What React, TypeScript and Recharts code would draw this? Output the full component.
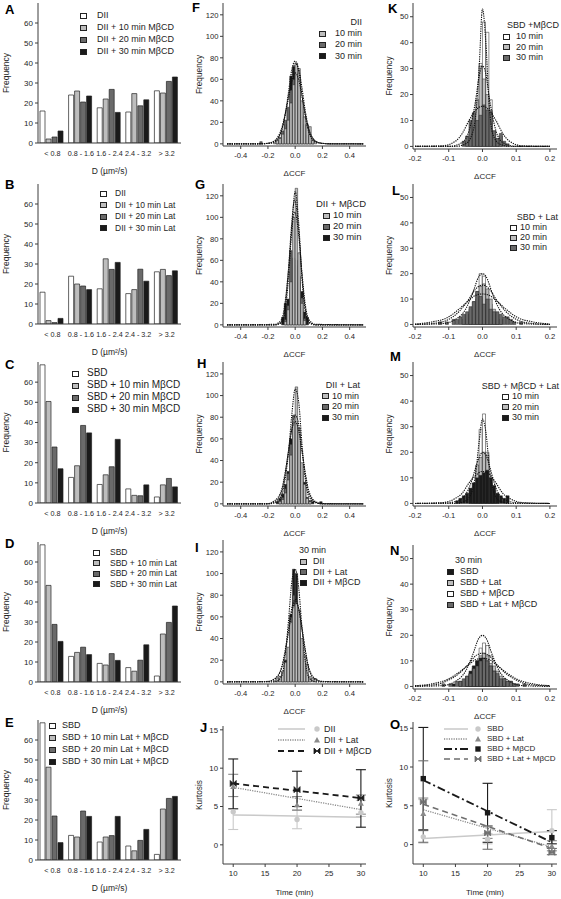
import React from 'react';
import { BarChart, Bar, XAxis, YAxis, ComposedChart, Line, Scatter, ErrorBar } from 'recharts';

const FONT = '"Liberation Sans", Arial, Helvetica, sans-serif';
const WHITE = '#ffffff';
const LIGHT = '#bdbdbd';
const DARK = '#6a6a6a';
const BLACK = '#1a1a1a';
const EDGE = '#222222';
const FRAME = '#3c3c3c';
const TXT = '#1e1e1e';

type Pair = [number, number];

// ---------- Left column (A–E): distribution of D ----------
const dCategories = ['< 0.8', '0.8 - 1.6', '1.6 - 2.4', '2.4 - 3.2', '> 3.2'];
const freqTicks = [0, 10, 20, 30, 40, 50, 60];

const aDII = [16, 24, 17.6, 15.5, 26.1];
const aDII10 = [2, 26, 22, 24.7, 25];
const aDII20 = [3, 20.5, 26.8, 18.6, 30.8];
const aDII30 = [6, 23.5, 15.3, 21.6, 33];

const bDII = [15.9, 23.9, 17.6, 15.2, 26.1];
const bDII10 = [1.7, 20, 32.6, 17.2, 27.3];
const bDII20 = [0.7, 19, 27.3, 27.4, 24.2];
const bDII30 = [2.8, 17.2, 30.8, 21.4, 26.6];

const cSBD = [68.6, 12.7, 9.2, 7, 3];
const cSBD10 = [50.4, 18.5, 14, 3.8, 9];
const cSBD20 = [27.8, 38.5, 18, 3.6, 12.2];
const cSBD30 = [17, 34.8, 31.6, 9, 8];

const dSBD = [68.6, 12.8, 9.3, 7.2, 3];
const dSBD10 = [48.3, 14.8, 8.5, 5.4, 24];
const dSBD20 = [28.8, 17.4, 14.2, 10.9, 29.8];
const dSBD30 = [20.3, 13.7, 10.8, 18.6, 38];

const eSBD = [68.6, 12.3, 9, 7, 2.8];
const eSBD10 = [46.4, 11.5, 11.5, 4.6, 25.5];
const eSBD20 = [22, 24.5, 12.2, 9.8, 30.8];
const eSBD30 = [8.7, 21.8, 21.8, 15.3, 31.8];

// ---------- Middle column histograms (F–I), ΔCCF bins ----------
const f10: Pair[] = [[-0.15,1],[-0.13,3],[-0.11,5],[-0.09,9],[-0.07,14],[-0.05,22],[-0.03,38],[-0.01,55],[0.01,75],[0.03,70],[0.05,40],[0.07,25],[0.09,18],[0.11,16],[0.13,4],[0.15,2]];
const f20: Pair[] = [[-0.25,2],[-0.13,3],[-0.11,6],[-0.09,12],[-0.07,22],[-0.05,34],[-0.03,50],[-0.01,60],[0.01,62],[0.03,45],[0.05,30],[0.07,16],[0.09,6],[0.11,3],[0.13,1]];
const f30: Pair[] = [[-0.13,2],[-0.11,4],[-0.09,10],[-0.07,18],[-0.05,30],[-0.03,63],[-0.01,72],[0.01,66],[0.03,64],[0.05,35],[0.07,18],[0.09,8],[0.11,3],[0.13,1]];
const fitF10: Pair[] = [[-0.5,0],[-0.25,0],[-0.2,0.5],[-0.15,2.5],[-0.125,6],[-0.1,13],[-0.075,26],[-0.05,44],[-0.025,63],[0,75],[0.025,70],[0.05,52],[0.075,30],[0.1,14],[0.125,6],[0.15,2.5],[0.2,0.5],[0.25,0],[0.5,0]];
const fitF20: Pair[] = [[-0.5,0],[-0.25,0],[-0.2,0.6],[-0.15,3],[-0.125,7],[-0.1,14],[-0.075,27],[-0.05,42],[-0.025,58],[0,66],[0.025,60],[0.05,44],[0.075,27],[0.1,13],[0.125,6],[0.15,2.5],[0.2,0.5],[0.25,0],[0.5,0]];
const fitF30: Pair[] = [[-0.5,0],[-0.2,0.3],[-0.15,2],[-0.125,5],[-0.1,12],[-0.075,26],[-0.05,47],[-0.025,69],[0,77],[0.025,68],[0.05,46],[0.075,25],[0.1,11],[0.125,4],[0.15,1.5],[0.2,0.3],[0.5,0]];

const g10: Pair[] = [[-0.07,3],[-0.05,14],[-0.03,40],[-0.01,100],[0.01,127],[0.03,67],[0.05,20],[0.07,4]];
const g20: Pair[] = [[-0.07,5],[-0.05,18],[-0.03,69],[-0.01,62],[0.01,60],[0.03,40],[0.05,25],[0.07,6]];
const g30: Pair[] = [[-0.09,7],[-0.07,20],[-0.05,24],[-0.03,50],[-0.01,62],[0.01,55],[0.03,45],[0.05,31],[0.07,12],[0.09,7]];
const fitG10: Pair[] = [[-0.5,0],[-0.15,0],[-0.1,2],[-0.075,12],[-0.05,42],[-0.025,90],[0,124],[0.025,96],[0.05,44],[0.075,12],[0.1,2],[0.15,0],[0.5,0]];
const fitG20: Pair[] = [[-0.5,0],[-0.15,0],[-0.1,3],[-0.075,16],[-0.05,50],[-0.025,95],[-0.005,116],[0.025,90],[0.05,45],[0.075,14],[0.1,3],[0.15,0],[0.5,0]];
const fitG30: Pair[] = [[-0.5,0],[-0.15,0.5],[-0.1,5],[-0.075,20],[-0.05,50],[-0.025,88],[-0.005,105],[0.025,85],[0.05,48],[0.075,18],[0.1,5],[0.15,0.5],[0.5,0]];

const h10: Pair[] = [[-0.11,2],[-0.09,4],[-0.07,10],[-0.05,22],[-0.03,45],[-0.01,80],[0.01,108],[0.03,70],[0.05,38],[0.07,18],[0.09,5],[0.11,2]];
const h20: Pair[] = [[-0.11,3],[-0.09,6],[-0.07,14],[-0.05,28],[-0.03,55],[-0.01,82],[0.01,75],[0.03,55],[0.05,30],[0.07,14],[0.09,4],[0.11,2]];
const h30: Pair[] = [[-0.13,2],[-0.11,5],[-0.09,9],[-0.07,18],[-0.05,30],[-0.03,60],[-0.01,75],[0.01,70],[0.03,58],[0.05,35],[0.07,20],[0.09,6],[0.11,3],[0.13,2],[0.19,2]];
const fitH10: Pair[] = [[-0.5,0],[-0.2,0],[-0.15,1],[-0.1,8],[-0.075,22],[-0.05,46],[-0.025,82],[0,106],[0.025,95],[0.05,55],[0.075,22],[0.1,7],[0.15,1],[0.2,0],[0.5,0]];
const fitH20: Pair[] = [[-0.5,0],[-0.2,0],[-0.15,2],[-0.1,11],[-0.075,26],[-0.05,48],[-0.025,70],[0,82],[0.025,74],[0.05,50],[0.075,26],[0.1,10],[0.15,1.5],[0.2,0],[0.5,0]];
const fitH30: Pair[] = [[-0.5,0],[-0.2,0.3],[-0.15,3],[-0.1,13],[-0.075,28],[-0.05,48],[-0.025,68],[0,76],[0.025,68],[0.05,48],[0.075,28],[0.1,12],[0.15,2],[0.2,0.3],[0.5,0]];

const iDII: Pair[] = [[-0.15,1],[-0.13,3],[-0.11,5],[-0.09,10],[-0.07,18],[-0.05,32],[-0.03,55],[-0.01,70],[0.01,72],[0.03,66],[0.05,40],[0.07,24],[0.09,16],[0.11,5],[0.13,3],[0.15,3]];
const iLat: Pair[] = [[-0.13,2],[-0.11,5],[-0.09,9],[-0.07,18],[-0.05,30],[-0.03,60],[-0.01,80],[0.01,75],[0.03,58],[0.05,35],[0.07,20],[0.09,6],[0.11,3]];
const iMbcd: Pair[] = [[-0.09,7],[-0.07,20],[-0.05,28],[-0.03,62],[-0.01,104],[0.01,100],[0.03,45],[0.05,31],[0.07,12],[0.09,7]];
const fitI1: Pair[] = [[-0.5,0],[-0.2,0.4],[-0.15,2.5],[-0.1,13],[-0.075,26],[-0.05,45],[-0.025,64],[0,74],[0.025,68],[0.05,50],[0.075,29],[0.1,13],[0.15,2.5],[0.2,0.4],[0.5,0]];
const fitI2: Pair[] = [[-0.5,0],[-0.2,0.3],[-0.15,3],[-0.1,13],[-0.075,28],[-0.05,48],[-0.025,68],[0,76],[0.025,68],[0.05,48],[0.075,28],[0.1,12],[0.15,2],[0.2,0.3],[0.5,0]];
const fitI3: Pair[] = [[-0.5,0],[-0.15,0],[-0.1,5],[-0.075,22],[-0.05,55],[-0.025,92],[0,104],[0.025,88],[0.05,50],[0.075,18],[0.1,4],[0.15,0],[0.5,0]];

// ---------- Right column histograms (K–N) ----------
const k10: Pair[] = [[-0.025,3],[-0.015,8],[-0.005,32],[0.005,48],[0.015,44],[0.025,18],[0.035,5],[0.045,2]];
const k20: Pair[] = [[-0.045,2],[-0.035,5],[-0.025,8],[-0.015,18],[-0.005,31],[0.005,26],[0.015,20],[0.025,14],[0.035,6],[0.045,3],[0.055,4]];
const k30: Pair[] = [[-0.055,2],[-0.045,4],[-0.035,10],[-0.025,13],[-0.015,10],[-0.005,12],[0.005,16],[0.015,14],[0.025,13],[0.035,6],[0.045,3],[0.055,5],[0.065,2],[0.075,1]];
const fitK10: Pair[] = [[-0.2,0],[-0.08,0],[-0.05,1],[-0.03,5],[-0.02,12],[-0.01,30],[0,53],[0.01,40],[0.02,16],[0.03,5],[0.05,1],[0.08,0],[0.2,0]];
const fitK20: Pair[] = [[-0.2,0],[-0.1,0],[-0.06,1.5],[-0.04,6],[-0.02,18],[-0.01,27],[0,31],[0.01,28],[0.02,19],[0.04,6],[0.06,1.5],[0.1,0],[0.2,0]];
const fitK30: Pair[] = [[-0.2,0],[-0.12,0.2],[-0.08,2],[-0.06,5],[-0.04,10],[-0.02,14],[0,15.5],[0.02,14],[0.04,10],[0.06,5],[0.08,2],[0.12,0.2],[0.2,0]];

const l10: Pair[] = [[-0.035,3],[-0.025,6],[-0.015,10],[-0.005,20],[0.005,19],[0.015,13],[0.025,8],[0.035,4],[0.045,2]];
const l20: Pair[] = [[-0.055,2],[-0.045,4],[-0.035,6],[-0.025,9],[-0.015,13],[-0.005,15],[0.005,16],[0.015,14],[0.025,10],[0.035,6],[0.045,4],[0.055,2]];
const l30: Pair[] = [[-0.125,1],[-0.105,1],[-0.085,2],[-0.075,2],[-0.065,3],[-0.055,4],[-0.045,5],[-0.035,7],[-0.025,9],[-0.015,13],[-0.005,11],[0.005,8],[0.015,10],[0.025,6],[0.035,5],[0.045,5],[0.055,4],[0.065,3],[0.075,3],[0.085,2],[0.095,1],[0.115,1]];
const fitL10: Pair[] = [[-0.2,0],[-0.12,0.3],[-0.08,2],[-0.05,6],[-0.03,12],[-0.01,19],[0,20],[0.01,19],[0.03,12],[0.05,6],[0.08,2],[0.12,0.3],[0.2,0]];
const fitL20: Pair[] = [[-0.2,0],[-0.14,0.5],[-0.1,2],[-0.07,5],[-0.04,10],[-0.02,14],[0,15.5],[0.02,14],[0.04,10],[0.07,5],[0.1,2],[0.14,0.5],[0.2,0]];
const fitL30: Pair[] = [[-0.2,0.2],[-0.15,1],[-0.1,3],[-0.07,6],[-0.04,9.5],[-0.02,11.5],[0,12],[0.02,11.5],[0.04,9.5],[0.07,6],[0.1,3],[0.15,1],[0.2,0.2]];

const m10: Pair[] = [[-0.025,5],[-0.015,12],[-0.005,29],[0.005,35],[0.015,20],[0.025,8],[0.035,3]];
const m20: Pair[] = [[-0.035,4],[-0.025,8],[-0.015,15],[-0.005,18],[0.005,20],[0.015,19],[0.025,10],[0.035,5],[0.045,3]];
const m30: Pair[] = [[-0.075,1],[-0.065,2],[-0.055,3],[-0.045,4],[-0.035,6],[-0.025,8],[-0.015,10],[-0.005,11],[0.005,12],[0.015,13],[0.025,10],[0.035,7],[0.045,4],[0.055,3],[0.065,2],[0.075,3]];
const fitM10: Pair[] = [[-0.2,0],[-0.08,0],[-0.05,1],[-0.03,5],[-0.02,12],[-0.01,24],[0,33],[0.01,28],[0.02,15],[0.03,6],[0.05,1],[0.08,0],[0.2,0]];
const fitM20: Pair[] = [[-0.2,0],[-0.1,0.3],[-0.06,2],[-0.04,6],[-0.02,14],[-0.01,18],[0,20],[0.01,19],[0.02,15],[0.04,6],[0.06,2],[0.1,0.3],[0.2,0]];
const fitM30: Pair[] = [[-0.2,0],[-0.12,0.3],[-0.08,2],[-0.06,4],[-0.04,8],[-0.02,11],[0,12.5],[0.02,11.5],[0.04,8],[0.06,4],[0.08,2],[0.12,0.3],[0.2,0]];

const nMbcd: Pair[] = [[-0.035,5],[-0.025,8],[-0.015,10],[-0.005,15],[0.005,17],[0.015,16],[0.025,12],[0.035,7],[0.045,4],[0.055,2]];
const nLat: Pair[] = [[-0.055,2],[-0.045,3],[-0.035,5],[-0.025,7],[-0.015,10],[-0.005,12],[0.005,13],[0.015,12],[0.025,9],[0.035,8],[0.045,6],[0.055,4],[0.065,3],[0.075,2],[0.085,2],[0.095,1]];
const nSBD: Pair[] = [[-0.085,1],[-0.065,2],[-0.045,4],[-0.035,6],[-0.025,8],[-0.015,10],[-0.005,11],[0.005,11],[0.015,10],[0.025,8],[0.035,6],[0.045,4],[0.065,2]];
const nLatMbcd: Pair[] = [[-0.115,1],[-0.095,1],[-0.075,2],[-0.065,2],[-0.055,3],[-0.045,4],[-0.035,5],[-0.025,7],[-0.015,8],[-0.005,10],[0.005,11],[0.015,10],[0.025,8],[0.035,6],[0.045,5],[0.055,3],[0.065,3],[0.075,2],[0.085,2],[0.095,1],[0.105,1],[0.125,1]];
const fitN1: Pair[] = [[-0.2,0],[-0.12,0.3],[-0.08,2],[-0.05,6],[-0.03,12],[-0.01,19],[0,20],[0.01,19],[0.03,12],[0.05,6],[0.08,2],[0.12,0.3],[0.2,0]];
const fitN2: Pair[] = [[-0.2,0.2],[-0.14,0.7],[-0.1,2.5],[-0.07,5],[-0.04,9],[-0.02,12],[0,13],[0.02,12],[0.04,9],[0.07,5],[0.1,2.5],[0.14,0.7],[0.2,0.2]];
const fitN3: Pair[] = [[-0.2,0.3],[-0.15,1],[-0.1,3],[-0.07,5.5],[-0.04,8.5],[-0.02,10.5],[0,11],[0.02,10.5],[0.04,8.5],[0.07,5.5],[0.1,3],[0.15,1],[0.2,0.3]];

// ---------- Kurtosis panels (J, O) ----------
const timePoints = [10, 20, 30];
const timeTicks = [10, 15, 20, 25, 30];
const fitTimes = [10, 30];

const jDII = [4.3, 3.3, 4.2];
const jDIIlo = [2.0, 2.1, 3.7];
const jDIIhi = [6.3, 4.6, 5.8];
const jDIIfit = [3.9, 3.6];
const jLat = [7.6, 5.2, 5.4];
const jLatlo = [6.3, 4.5, 4.0];
const jLathi = [9.2, 6.3, 6.5];
const jLatfit = [7.5, 4.6];
const jMbcd = [8.0, 7.2, 6.1];
const jMbcdlo = [4.7, 5.0, 2.3];
const jMbcdhi = [11.2, 9.6, 9.8];
const jMbcdfit = [8.0, 6.1];

const oSBD = [1.0, 0.7, 1.8];
const oSBDlo = [0.2, 0.1, -0.5];
const oSBDhi = [5.8, 1.4, 4.5];
const oSBDfit = [0.8, 1.7];
const oLat = [4.0, 1.6, -0.2];
const oLatlo = [1.8, 0.8, -0.8];
const oLathi = [6.0, 2.4, 0.5];
const oLatfit = [4.5, -0.3];
const oMbcd = [8.5, 4.1, 0.9];
const oMbcdlo = [1.9, 0.3, 0.1];
const oMbcdhi = [15.1, 7.9, 1.8];
const oMbcdfit = [8.3, 0.3];
const oLM = [5.5, 1.5, -1.0];
const oLMlo = [0.3, -0.6, -1.3];
const oLMhi = [10.8, 2.4, -0.5];
const oLMfit = [5.2, -0.5];

// ---------- helpers ----------
function YLabel(props: any) {
  const { viewBox, text, dx, fontSize } = props;
  if (!viewBox) return null;
  const x = viewBox.x + dx;
  const y = viewBox.y + viewBox.height / 2;
  return (
    <text x={x} y={y} transform={`rotate(-90 ${x} ${y})`} textAnchor="middle" fontSize={fontSize} fontFamily={FONT} fill={TXT}>
      {text}
    </text>
  );
}

function XLabel(props: any) {
  const { viewBox, text, dy, fontSize } = props;
  if (!viewBox) return null;
  const x = viewBox.x + viewBox.width / 2;
  const y = viewBox.y + dy;
  return (
    <text x={x} y={y} textAnchor="middle" fontSize={fontSize} fontFamily={FONT} fill={TXT}>
      {text}
    </text>
  );
}

function Letter({ ch, x, y }: any) {
  return (
    <div style={{ position: 'absolute', left: x, top: Math.max(0, y - 11), fontSize: 13, lineHeight: '13px', fontWeight: 'bold', fontFamily: FONT, color: '#000' }}>
      {ch}
    </div>
  );
}

function SwatchLegend({ L, items }: any) {
  const rowH = 14;
  return (
    <>
      {L.title ? (
        <div
          style={{
            position: 'absolute',
            top: L.y - L.dy - rowH / 2,
            height: rowH,
            lineHeight: rowH + 'px',
            fontSize: L.font,
            whiteSpace: 'nowrap',
            color: TXT,
            fontFamily: FONT,
            ...(L.titleRight != null ? { right: 561 - L.titleRight } : { left: L.titleLeft }),
          }}
        >
          {L.title}
        </div>
      ) : null}
      {items.map((it: any, i: number) => (
        <React.Fragment key={i}>
          <div
            style={{
              position: 'absolute',
              left: L.x,
              top: L.y + i * L.dy - 2.5,
              width: 5,
              height: 4,
              background: it.fill,
              border: '0.8px solid #222',
            }}
          />
          <div
            style={{
              position: 'absolute',
              left: L.textX,
              top: L.y + i * L.dy - rowH / 2,
              height: rowH,
              lineHeight: rowH + 'px',
              fontSize: L.font,
              whiteSpace: 'nowrap',
              color: TXT,
              fontFamily: FONT,
            }}
          >
            {it.label}
          </div>
        </React.Fragment>
      ))}
    </>
  );
}

// ---------- Left column panels ----------
const LEFT_FILLS = [WHITE, LIGHT, DARK, BLACK];
const leftPanels = [
  { letter: 'A', letterY: 14, top: 3, bottom: 143, series: [aDII, aDII10, aDII20, aDII30],
    names: ['DII', 'DII + 10 min MβCD', 'DII + 20 min MβCD', 'DII + 30 min MβCD'],
    legend: { x: 80, y: 15, dy: 12, font: 9, textX: 97 } },
  { letter: 'B', letterY: 189, top: 184, bottom: 324, series: [bDII, bDII10, bDII20, bDII30],
    names: ['DII', 'DII + 10 min Lat', 'DII + 20 min Lat', 'DII + 30 min Lat'],
    legend: { x: 100, y: 193, dy: 11.5, font: 8.5, textX: 115 } },
  { letter: 'C', letterY: 369, top: 362, bottom: 503, series: [cSBD, cSBD10, cSBD20, cSBD30],
    names: ['SBD', 'SBD + 10 min MβCD', 'SBD + 20 min MβCD', 'SBD + 30 min MβCD'],
    legend: { x: 72, y: 373, dy: 12, font: 10, textX: 87 } },
  { letter: 'D', letterY: 548, top: 542, bottom: 682, series: [dSBD, dSBD10, dSBD20, dSBD30],
    names: ['SBD', 'SBD + 10 min Lat', 'SBD + 20 min Lat', 'SBD + 30 min Lat'],
    legend: { x: 93, y: 552, dy: 10.5, font: 8.5, textX: 110 } },
  { letter: 'E', letterY: 727, top: 720, bottom: 860, series: [eSBD, eSBD10, eSBD20, eSBD30],
    names: ['SBD', 'SBD + 10 min Lat  + MβCD', 'SBD + 20 min Lat  + MβCD', 'SBD + 30 min Lat  + MβCD'],
    legend: { x: 49, y: 725, dy: 12, font: 9, textX: 62 } },
];

function DPanel({ p }: any) {
  const x0 = 38, x1 = 181, yw = 38, mt = 2, xh = 36;
  const rows = dCategories.map((c, i) => ({ cat: c, s0: p.series[0][i], s1: p.series[1][i], s2: p.series[2][i], s3: p.series[3][i] }));
  const W = x1 - x0 + yw + 2;
  const H = mt + (p.bottom - p.top) + xh;
  return (
    <div style={{ position: 'absolute', left: x0 - yw, top: p.top - mt, width: W, height: H }}>
      <BarChart width={W} height={H} data={rows} margin={{ top: mt, right: 2, left: 0, bottom: 0 }} barCategoryGap={2} barGap={1}>
        <XAxis dataKey="cat" interval={0} tickLine={false} tickSize={0} tickMargin={8} height={xh}
          axisLine={{ stroke: FRAME }} tick={{ fontSize: 7.2, fill: TXT, fontFamily: FONT }}
          label={<XLabel text="D (µm²/s)" dy={31} fontSize={8.5} />} />
        <XAxis xAxisId="top" dataKey="cat" orientation="top" height={0} tick={false} tickLine={false} axisLine={{ stroke: FRAME }} />
        <YAxis domain={[0, 70]} ticks={freqTicks} width={yw} tickSize={3} tickMargin={2} allowDataOverflow
          tickLine={{ stroke: FRAME }} axisLine={{ stroke: FRAME }} tick={{ fontSize: 8, fill: TXT, fontFamily: FONT }}
          label={<YLabel text="Frequency" dx={9} fontSize={8.5} />} />
        <YAxis yAxisId="r" orientation="right" domain={[0, 70]} width={0} tick={false} tickLine={false} axisLine={{ stroke: FRAME }} />
        {[0, 1, 2, 3].map((i) => (
          <Bar key={i} dataKey={'s' + i} fill={LEFT_FILLS[i]} stroke={EDGE} strokeWidth={0.7} isAnimationActive={false} />
        ))}
      </BarChart>
    </div>
  );
}

// ---------- Histogram panels ----------
const midXTicks = [-0.4, -0.2, 0, 0.2, 0.4];
const midYTicks = [0, 20, 40, 60, 80, 100, 120];
const rightXTicks = [-0.2, -0.1, 0, 0.1, 0.2];
const rightYTicks = [0, 10, 20, 30, 40, 50];
const MID_X: [number, number] = [-0.53, 0.52];
const RIGHT_X: [number, number] = [-0.206, 0.221];

const histPanels = [
  { letter: 'F', lx: 192, ly: 12, box: { x0: 223, x1: 366, y0: 3, y1: 146 }, xDomain: MID_X, yDomain: [-2, 131], xTicks: midXTicks, yTicks: midYTicks, bin: 0.02,
    series: [{ data: f30, fill: BLACK }, { data: f20, fill: DARK }, { data: f10, fill: LIGHT }], fits: [fitF10, fitF20, fitF30],
    legend: { x: 319, y: 33, dy: 11.3, font: 9, textX: 335, title: 'DII', titleRight: 362 },
    items: [{ label: '10 min', fill: LIGHT }, { label: '20 min', fill: DARK }, { label: '30 min', fill: BLACK }] },
  { letter: 'G', lx: 195, ly: 189, box: { x0: 223, x1: 366, y0: 184, y1: 327 }, xDomain: MID_X, yDomain: [-2, 131], xTicks: midXTicks, yTicks: midYTicks, bin: 0.02,
    series: [{ data: g30, fill: BLACK }, { data: g20, fill: DARK }, { data: g10, fill: LIGHT }], fits: [fitG10, fitG20, fitG30],
    legend: { x: 323, y: 215, dy: 11.2, font: 9.5, textX: 333, title: 'DII + MβCD', titleRight: 366 },
    items: [{ label: '10 min', fill: LIGHT }, { label: '20 min', fill: DARK }, { label: '30 min', fill: BLACK }] },
  { letter: 'H', lx: 197, ly: 368, box: { x0: 223, x1: 366, y0: 362, y1: 506 }, xDomain: MID_X, yDomain: [-2, 131], xTicks: midXTicks, yTicks: midYTicks, bin: 0.02,
    series: [{ data: h30, fill: BLACK }, { data: h20, fill: DARK }, { data: h10, fill: LIGHT }], fits: [fitH10, fitH20, fitH30],
    legend: { x: 322, y: 395.5, dy: 10.8, font: 9, textX: 332, title: 'DII + Lat', titleRight: 360 },
    items: [{ label: '10 min', fill: LIGHT }, { label: '20 min', fill: DARK }, { label: '30 min', fill: BLACK }] },
  { letter: 'I', lx: 195, ly: 552, box: { x0: 223, x1: 366, y0: 540, y1: 684 }, xDomain: MID_X, yDomain: [-2, 131], xTicks: midXTicks, yTicks: midYTicks, bin: 0.02,
    series: [{ data: iMbcd, fill: BLACK }, { data: iLat, fill: DARK }, { data: iDII, fill: LIGHT }], fits: [fitI1, fitI2, fitI3],
    legend: { x: 300, y: 561, dy: 10.7, font: 9, textX: 313, title: '30 min', titleLeft: 299 },
    items: [{ label: 'DII', fill: LIGHT }, { label: 'DII + Lat', fill: DARK }, { label: 'DII + MβCD', fill: BLACK }] },
  { letter: 'K', lx: 388, ly: 13, box: { x0: 413, x1: 557, y0: 3, y1: 149 }, xDomain: RIGHT_X, yDomain: [-1, 55.3], xTicks: rightXTicks, yTicks: rightYTicks, bin: 0.01,
    series: [{ data: k10, fill: WHITE }, { data: k20, fill: LIGHT }, { data: k30, fill: DARK }], fits: [fitK10, fitK20, fitK30],
    legend: { x: 503, y: 36, dy: 10.7, font: 9, textX: 516, title: 'SBD +MβCD', titleRight: 559 },
    items: [{ label: '10 min', fill: WHITE }, { label: '20 min', fill: LIGHT }, { label: '30 min', fill: DARK }] },
  { letter: 'L', lx: 392, ly: 195, box: { x0: 413, x1: 557, y0: 184, y1: 327 }, xDomain: RIGHT_X, yDomain: [-1, 55.3], xTicks: rightXTicks, yTicks: rightYTicks, bin: 0.01,
    series: [{ data: l10, fill: WHITE }, { data: l20, fill: LIGHT }, { data: l30, fill: DARK }], fits: [fitL10, fitL20, fitL30],
    legend: { x: 510, y: 227, dy: 10, font: 9, textX: 520, title: 'SBD + Lat', titleRight: 558 },
    items: [{ label: '10 min', fill: WHITE }, { label: '20 min', fill: LIGHT }, { label: '30 min', fill: DARK }] },
  { letter: 'M', lx: 390, ly: 361, box: { x0: 413, x1: 557, y0: 362, y1: 506 }, xDomain: RIGHT_X, yDomain: [-1, 55.3], xTicks: rightXTicks, yTicks: rightYTicks, bin: 0.01,
    series: [{ data: m10, fill: WHITE }, { data: m20, fill: LIGHT }, { data: m30, fill: BLACK }], fits: [fitM10, fitM20, fitM30],
    legend: { x: 502, y: 396, dy: 10.5, font: 9, textX: 512, title: 'SBD + MβCD + Lat', titleRight: 559 },
    items: [{ label: '10 min', fill: WHITE }, { label: '20 min', fill: LIGHT }, { label: '30 min', fill: BLACK }] },
  { letter: 'N', lx: 390, ly: 555, box: { x0: 413, x1: 557, y0: 545, y1: 689 }, xDomain: RIGHT_X, yDomain: [-1, 55.3], xTicks: rightXTicks, yTicks: rightYTicks, bin: 0.01,
    series: [{ data: nMbcd, fill: WHITE }, { data: nLat, fill: LIGHT }, { data: nSBD, fill: BLACK }, { data: nLatMbcd, fill: DARK }], fits: [fitN1, fitN2, fitN3],
    legend: { x: 447, y: 571, dy: 11, font: 9, textX: 460, title: '30 min', titleLeft: 455 },
    items: [{ label: 'SBD', fill: BLACK }, { label: 'SBD + Lat', fill: LIGHT }, { label: 'SBD + MβCD', fill: WHITE }, { label: 'SBD + Lat + MβCD', fill: DARK }] },
];

function HistPanel({ h }: any) {
  const yw = 30, mt = 2, mr = 2, xh = 36;
  const { x0, x1, y0, y1 } = h.box;
  const W = x1 - x0 + yw + mr;
  const H = mt + (y1 - y0) + xh;
  const map = new Map<string, any>();
  h.series.forEach((s: any, i: number) =>
    s.data.forEach(([x, y]: Pair) => {
      const k = x.toFixed(4);
      if (!map.has(k)) map.set(k, { x });
      map.get(k)['s' + i] = y;
    })
  );
  const rows = Array.from(map.values()).sort((a, b) => a.x - b.x);
  const barW = (h.bin * (x1 - x0)) / (h.xDomain[1] - h.xDomain[0]);
  const tickFmt = (v: number) => (Math.abs(v) < 1e-9 ? '0.0' : v.toFixed(1));
  return (
    <div style={{ position: 'absolute', left: x0 - yw, top: y0 - mt, width: W, height: H }}>
      <ComposedChart width={W} height={H} data={rows} margin={{ top: mt, right: mr, left: 0, bottom: 0 }} barCategoryGap={0} barGap={0}>
        {h.series.map((s: any, i: number) => (
          <XAxis key={'xa' + i} xAxisId={'b' + i} type="number" dataKey="x" domain={h.xDomain} allowDataOverflow hide={i > 0}
            ticks={h.xTicks} tickFormatter={tickFmt} height={xh} tickSize={3} tickMargin={4}
            tickLine={{ stroke: FRAME }} axisLine={{ stroke: FRAME }} tick={{ fontSize: 7.6, fill: TXT, fontFamily: FONT }}
            label={i === 0 ? <XLabel text="ΔCCF" dy={30} fontSize={8} /> : undefined} />
        ))}
        <XAxis xAxisId="fit" type="number" dataKey="x" domain={h.xDomain} allowDataOverflow hide />
        <XAxis xAxisId="top" orientation="top" type="number" domain={h.xDomain} allowDataOverflow height={0} tick={false} tickLine={false} axisLine={{ stroke: FRAME }} />
        <YAxis yAxisId="l" type="number" domain={h.yDomain} ticks={h.yTicks} allowDataOverflow width={yw} tickSize={3} tickMargin={1.5}
          tickLine={{ stroke: FRAME }} axisLine={{ stroke: FRAME }} tick={{ fontSize: 7.6, fill: TXT, fontFamily: FONT }}
          label={<YLabel text="Frequency" dx={9} fontSize={8.3} />} />
        <YAxis yAxisId="r" orientation="right" type="number" domain={h.yDomain} allowDataOverflow width={0} tick={false} tickLine={false} axisLine={{ stroke: FRAME }} />
        {h.series.map((s: any, i: number) => (
          <Bar key={'bar' + i} dataKey={'s' + i} xAxisId={'b' + i} yAxisId="l" fill={s.fill} stroke={EDGE} strokeWidth={0.5} barSize={barW} isAnimationActive={false} />
        ))}
        {h.fits.map((f: Pair[], i: number) => (
          <Line key={'fit' + i} data={f.map(([x, y]) => ({ x, fy: y }))} dataKey="fy" xAxisId="fit" yAxisId="l" type="monotone"
            stroke="#111" strokeWidth={1.1} strokeDasharray="1.3 1" dot={false} activeDot={false} isAnimationActive={false} />
        ))}
      </ComposedChart>
    </div>
  );
}

// ---------- Kurtosis panels ----------
const makeShape = (kind: string, color: string) => (props: any) => {
  const { cx, cy } = props;
  if (cx == null || cy == null) return <g />;
  if (kind === 'circle') return <circle cx={cx} cy={cy} r={2.7} fill={color} />;
  if (kind === 'triangle') return <path d={`M${cx},${cy - 3} L${cx + 3},${cy + 2.4} L${cx - 3},${cy + 2.4} Z`} fill={color} />;
  if (kind === 'square') return <rect x={cx - 2.7} y={cy - 2.7} width={5.4} height={5.4} fill={color} />;
  return (
    <path d={`M${cx - 3},${cy - 3} L${cx},${cy} L${cx - 3},${cy + 3} Z M${cx + 3},${cy - 3} L${cx},${cy} L${cx + 3},${cy + 3} Z`} fill={color} stroke={color} strokeWidth={0.8} />
  );
};

function MarkerIcon({ kind, color, x, y }: any) {
  const Shape = makeShape(kind, color);
  return <Shape cx={x} cy={y} />;
}

const kPanels = [
  { letter: 'J', lx: 200, ly: 732, box: { x0: 223, x1: 366, y0: 726, y1: 864 }, xDomain: [8.4, 30.8], yDomain: [-2.5, 15.5],
    legend: { lineX: 278, lineW: 27, markX: 317, textX: 324, y: 729, dy: 11, font: 9 },
    series: [
      { name: 'DII', color: '#c9c9c9', dash: undefined, width: 1.5, kind: 'circle', pts: jDII, lo: jDIIlo, hi: jDIIhi, fit: jDIIfit },
      { name: 'DII + Lat', color: '#8a8a8a', dash: '1.2 1.2', width: 1.3, kind: 'triangle', pts: jLat, lo: jLatlo, hi: jLathi, fit: jLatfit },
      { name: 'DII + MβCD', color: '#1a1a1a', dash: '6 4', width: 1.8, kind: 'bowtie', pts: jMbcd, lo: jMbcdlo, hi: jMbcdhi, fit: jMbcdfit },
    ] },
  { letter: 'O', lx: 390, ly: 729, box: { x0: 413, x1: 557, y0: 722, y1: 864 }, xDomain: [8.4, 30.8], yDomain: [-2.5, 15.8],
    legend: { lineX: 444, lineW: 24, markX: 478, textX: 487, y: 729, dy: 10, font: 8 },
    series: [
      { name: 'SBD', color: '#c9c9c9', dash: undefined, width: 1.5, kind: 'circle', pts: oSBD, lo: oSBDlo, hi: oSBDhi, fit: oSBDfit },
      { name: 'SBD + Lat', color: '#8a8a8a', dash: '1.2 1.2', width: 1.3, kind: 'triangle', pts: oLat, lo: oLatlo, hi: oLathi, fit: oLatfit },
      { name: 'SBD + MβCD', color: '#1a1a1a', dash: '8 3 2 3', width: 1.8, kind: 'square', pts: oMbcd, lo: oMbcdlo, hi: oMbcdhi, fit: oMbcdfit },
      { name: 'SBD + Lat + MβCD', color: '#6f6f6f', dash: '6 4', width: 1.5, kind: 'bowtie', pts: oLM, lo: oLMlo, hi: oLMhi, fit: oLMfit },
    ] },
];

function KPanel({ k }: any) {
  const yw = 30, mt = 2, mr = 2, xh = 38;
  const { x0, x1, y0, y1 } = k.box;
  const W = x1 - x0 + yw + mr;
  const H = mt + (y1 - y0) + xh;
  return (
    <div style={{ position: 'absolute', left: x0 - yw, top: y0 - mt, width: W, height: H }}>
      <ComposedChart width={W} height={H} margin={{ top: mt, right: mr, left: 0, bottom: 0 }}>
        <XAxis type="number" dataKey="t" domain={k.xDomain} ticks={timeTicks} allowDataOverflow height={xh} tickSize={3} tickMargin={3}
          tickLine={{ stroke: FRAME }} axisLine={{ stroke: FRAME }} tick={{ fontSize: 7.8, fill: TXT, fontFamily: FONT }}
          label={<XLabel text="Time (min)" dy={31} fontSize={8} />} />
        <XAxis xAxisId="top" orientation="top" type="number" domain={k.xDomain} allowDataOverflow height={0} tick={false} tickLine={false} axisLine={{ stroke: FRAME }} />
        <YAxis type="number" domain={k.yDomain} ticks={[0, 5, 10, 15]} allowDataOverflow width={yw} tickSize={3} tickMargin={2}
          tickLine={{ stroke: FRAME }} axisLine={{ stroke: FRAME }} tick={{ fontSize: 7.8, fill: TXT, fontFamily: FONT }}
          label={<YLabel text="Kurtosis" dx={9} fontSize={8.3} />} />
        <YAxis yAxisId="r" orientation="right" type="number" domain={k.yDomain} allowDataOverflow width={0} tick={false} tickLine={false} axisLine={{ stroke: FRAME }} />
        {k.series.map((s: any, i: number) => (
          <Line key={'l' + i} data={fitTimes.map((t, j) => ({ t, v: s.fit[j] }))} dataKey="v" type="linear" stroke={s.color}
            strokeWidth={s.width} strokeDasharray={s.dash} dot={false} activeDot={false} isAnimationActive={false} />
        ))}
        {k.series.map((s: any, i: number) => (
          <Scatter key={'s' + i} data={timePoints.map((t, j) => ({ t, v: s.pts[j], e: [s.pts[j] - s.lo[j], s.hi[j] - s.pts[j]] }))}
            dataKey="v" fill={s.color} shape={makeShape(s.kind, s.color)} isAnimationActive={false}>
            <ErrorBar dataKey="e" direction="y" width={5} stroke={s.color} strokeWidth={1.1} />
          </Scatter>
        ))}
      </ComposedChart>
    </div>
  );
}

function KLegend({ k }: any) {
  const L = k.legend;
  const rowH = 14;
  return (
    <>
      {k.series.map((s: any, i: number) => {
        const cy = L.y + i * L.dy;
        return (
          <React.Fragment key={i}>
            <svg style={{ position: 'absolute', left: L.lineX, top: cy - 5 }} width={L.markX - L.lineX + 5} height={10}>
              <line x1={0} y1={5} x2={L.lineW} y2={5} stroke={s.color} strokeWidth={s.width} strokeDasharray={s.dash} />
              <MarkerIcon kind={s.kind} color={s.color} x={L.markX - L.lineX} y={5} />
            </svg>
            <div style={{ position: 'absolute', left: L.textX, top: cy - rowH / 2, height: rowH, lineHeight: rowH + 'px', fontSize: L.font, whiteSpace: 'nowrap', color: TXT, fontFamily: FONT }}>
              {s.name}
            </div>
          </React.Fragment>
        );
      })}
    </>
  );
}

export default function App() {
  return (
    <div style={{ position: 'absolute', left: 0, top: 0, width: 561, height: 899, background: '#ffffff', overflow: 'hidden', fontFamily: FONT }}>
      {leftPanels.map((p) => (
        <DPanel key={p.letter} p={p} />
      ))}
      {histPanels.map((h) => (
        <HistPanel key={h.letter} h={h} />
      ))}
      {kPanels.map((k) => (
        <KPanel key={k.letter} k={k} />
      ))}
      {leftPanels.map((p) => (
        <React.Fragment key={'lg' + p.letter}>
          <Letter ch={p.letter} x={5} y={p.letterY} />
          <SwatchLegend L={p.legend} items={p.names.map((n: string, i: number) => ({ label: n, fill: LEFT_FILLS[i] }))} />
        </React.Fragment>
      ))}
      {histPanels.map((h) => (
        <React.Fragment key={'lg' + h.letter}>
          <Letter ch={h.letter} x={h.lx} y={h.ly} />
          <SwatchLegend L={h.legend} items={h.items} />
        </React.Fragment>
      ))}
      {kPanels.map((k) => (
        <React.Fragment key={'lg' + k.letter}>
          <Letter ch={k.letter} x={k.lx} y={k.ly} />
          <KLegend k={k} />
        </React.Fragment>
      ))}
    </div>
  );
}
